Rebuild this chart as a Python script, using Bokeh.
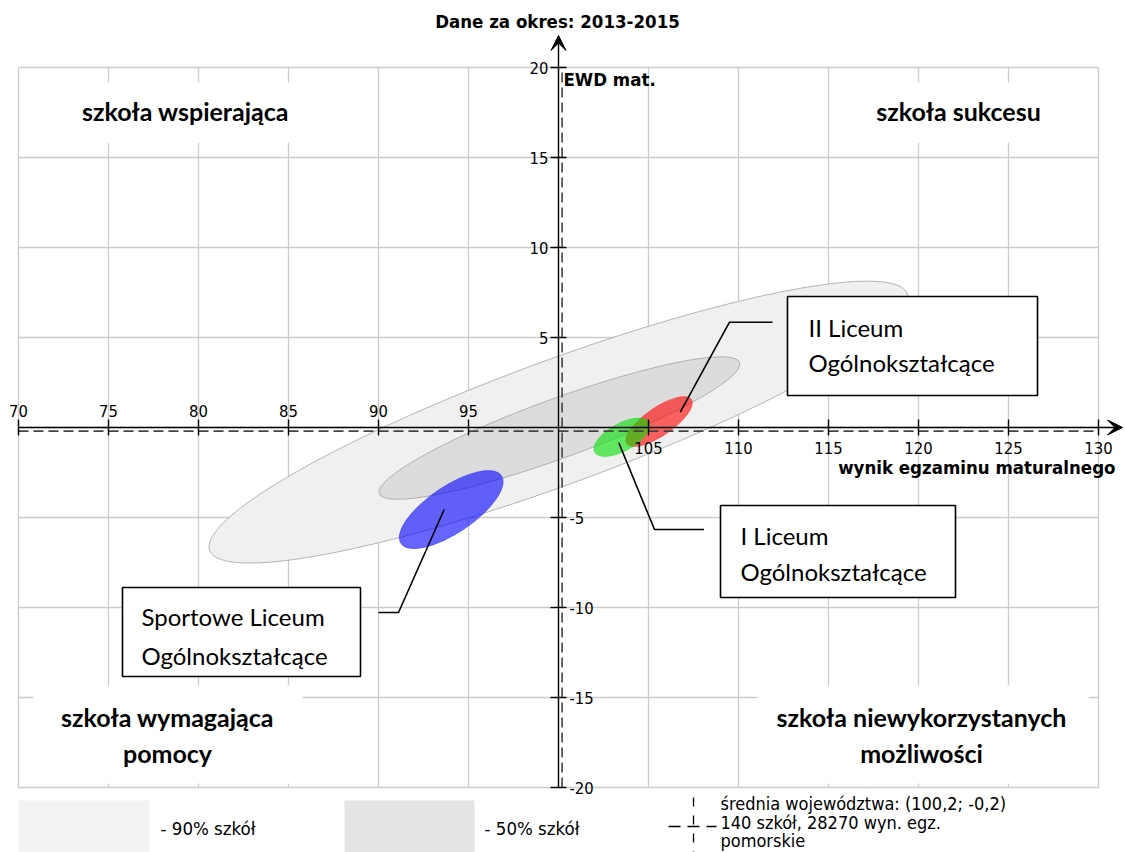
from bokeh.plotting import figure
from bokeh.models import Range1d, Arrow, VeeHead
from bokeh.core.properties import value
from bokeh.embed import file_html
from bokeh.resources import INLINE

# ---------------- data ----------------
x_ticks = [70, 75, 80, 85, 90, 95, 100, 105, 110, 115, 120, 125, 130]
y_ticks = [-20, -15, -10, -5, 0, 5, 10, 15, 20]
origin_x = 100
origin_y = 0
mean_x = 100.2
mean_y = -0.2

band_labels = ["- 90% szkół", "- 50% szkół"]
band_cx = [100.0, 100.05]
band_cy = [0.3, -0.03]
band_w = [41.3, 21.3]
band_h = [6.9, 3.3]
band_angle = [20.2, 20.0]
band_fill = ["#f0f0f0", "#dcdcdc"]

school_lines = [["Sportowe Liceum", "Ogólnokształcące"],
                ["II Liceum", "Ogólnokształcące"],
                ["I Liceum", "Ogólnokształcące"]]
school_cx = [94.04, 105.59, 103.52]
school_cy = [-4.56, 0.33, -0.54]
school_w = [6.74, 4.36, 3.45]
school_h = [2.6, 1.56, 1.53]
school_angle = [34.0, 34.4, 29.0]
school_color = ["#0000ff", "#ff0000", "#00e000"]

quadrant_labels = [["szkoła wspierająca"], ["szkoła sukcesu"],
                   ["szkoła wymagająca", "pomocy"],
                   ["szkoła niewykorzystanych", "możliwości"]]

title_text = "Dane za okres: 2013-2015"
x_label = "wynik egzaminu maturalnego"
y_label = "EWD mat."
legend_lines = ["średnia województwa: (100,2; -0,2)",
                "140 szkół, 28270 wyn. egz.",
                "pomorskie"]

# ---------------- layout ----------------
W, H = 1125, 852
PX = 18.0          # pixels per unit on both axes
OX, OY = 558, 427  # page pixel of the origin


def dx(px):
    return origin_x + (px - OX) / PX


def dy(py):
    return origin_y + (OY - py) / PX


AXF = value("DejaVu Sans Condensed")
LBF = value("Lato")
TICK_FS = "16.5px"
BIG_FS = "18.5px"

p = figure(width=W, height=H, x_range=Range1d(dx(0), dx(W)),
           y_range=Range1d(dy(H), dy(0)), output_backend="svg",
           toolbar_location=None, min_border=0, x_axis_type=None,
           y_axis_type=None)
p.grid.visible = False
p.outline_line_color = None
p.background_fill_color = "white"

xmin, xmax = x_ticks[0], x_ticks[-1]
ymin, ymax = y_ticks[0], y_ticks[-1]

# grid
p.segment(x0=x_ticks, x1=x_ticks, y0=[ymin] * len(x_ticks), y1=[ymax] * len(x_ticks),
          line_color="#cccccc", line_width=1.3)
p.segment(x0=[xmin] * len(y_ticks), x1=[xmax] * len(y_ticks), y0=y_ticks, y1=y_ticks,
          line_color="#cccccc", line_width=1.3)

# white boxes behind quadrant labels
qb = [(24, 82, 300, 142), (845, 82, 1080, 142), (33, 685, 302, 783), (757, 685, 1088, 783)]
p.quad(left=[dx(b[0]) for b in qb], right=[dx(b[2]) for b in qb],
       top=[dy(b[1]) for b in qb], bottom=[dy(b[3]) for b in qb],
       fill_color="white", line_color=None)

# bands
p.ellipse(x=band_cx, y=band_cy, width=band_w, height=band_h, angle=band_angle,
          angle_units="deg", fill_color=band_fill, line_color="#999999",
          line_alpha=0.7, line_width=1)

# schools
p.ellipse(x=school_cx, y=school_cy, width=school_w, height=school_h, angle=school_angle,
          angle_units="deg", fill_color=school_color, fill_alpha=0.6,
          line_color=school_color, line_alpha=0.35, line_width=1)

# mean dashed lines
p.segment(x0=[xmin, mean_x], x1=[xmax, mean_x], y0=[mean_y, ymin], y1=[mean_y, ymax],
          line_color="#444444", line_width=1.6, line_dash="10 5")

# axes with arrows
p.add_layout(Arrow(end=VeeHead(size=15, fill_color="black", line_color="black", line_width=1),
                   x_start=origin_x, y_start=ymin, x_end=origin_x, y_end=dy(35),
                   line_color="black", line_width=1.4))
p.add_layout(Arrow(end=VeeHead(size=15, fill_color="black", line_color="black", line_width=1),
                   x_start=xmin, y_start=origin_y, x_end=dx(1122), y_end=origin_y,
                   line_color="black", line_width=1.4))

tk = 8 / PX
xt = [t for t in x_ticks if t != origin_x]
yt = [t for t in y_ticks if t != origin_y]
p.segment(x0=xt, x1=xt, y0=[origin_y - tk] * len(xt), y1=[origin_y + tk] * len(xt),
          line_color="black", line_width=1.4)
p.segment(x0=[origin_x - tk] * len(yt), x1=[origin_x + tk] * len(yt), y0=yt, y1=yt,
          line_color="black", line_width=1.4)

# tick labels
xl = [t for t in xt if t < origin_x]
xr = [t for t in xt if t > origin_x]
p.text(x=xl, y=[dy(410)] * len(xl), text=[str(t) for t in xl], text_font=AXF,
       text_font_size=TICK_FS, text_align="center", text_baseline="middle", text_color="black")
p.text(x=xr, y=[dy(447)] * len(xr), text=[str(t) for t in xr], text_font=AXF,
       text_font_size=TICK_FS, text_align="center", text_baseline="middle", text_color="black")
yu = [t for t in yt if t > origin_y]
yd = [t for t in yt if t < origin_y]
p.text(x=[dx(548)] * len(yu), y=yu, text=[str(t) for t in yu], text_font=AXF,
       text_font_size=TICK_FS, text_align="right", text_baseline="middle", text_color="black")
p.text(x=[dx(569)] * len(yd), y=yd, text=[str(t) for t in yd], text_font=AXF,
       text_font_size=TICK_FS, text_align="left", text_baseline="middle", text_color="black")

# axis labels and title
p.text(x=[dx(1115)], y=[dy(467)], text=[x_label], text_font=AXF, text_font_style="bold",
       text_font_size=BIG_FS, text_align="right", text_baseline="middle", text_color="black")
p.text(x=[dx(563)], y=[dy(79)], text=[y_label], text_font=AXF, text_font_style="bold",
       text_font_size=BIG_FS, text_align="left", text_baseline="middle", text_color="black")
p.text(x=[dx(557)], y=[dy(21)], text=[title_text], text_font=AXF, text_font_style="bold",
       text_font_size=BIG_FS, text_align="center", text_baseline="middle", text_color="black")

# quadrant labels
qpos = [(185, [110]), (958, [110]), (167, [716, 752]), (921, [716, 752])]
for (cxp, ys), lines in zip(qpos, quadrant_labels):
    p.text(x=[dx(cxp)] * len(lines), y=[dy(v) for v in ys], text=lines, text_font=LBF,
           text_font_style="bold", text_font_size="25px", text_align="center",
           text_baseline="middle", text_color="black")

# callouts
boxes = [(122, 587, 360, 676), (787, 296, 1037, 395), (720, 505, 955, 597)]
leaders = [[(443.7, 509), (398, 612), (378, 612)],
           [(679.8, 411.7), (729, 321.7), (772, 321.7)],
           [(618.3, 442.3), (654, 529), (703.5, 529)]]
text_pos = [(141, [616, 655]), (808, [327, 362]), (740, [535, 571])]
p.quad(left=[dx(b[0]) for b in boxes], right=[dx(b[2]) for b in boxes],
       top=[dy(b[1]) for b in boxes], bottom=[dy(b[3]) for b in boxes],
       fill_color="white", line_color="black", line_width=1.6)
p.multi_line(xs=[[dx(a) for a, _ in L] for L in leaders], ys=[[dy(b) for _, b in L] for L in leaders],
             line_color="black", line_width=1.6)
for (lx, ys), lines in zip(text_pos, school_lines):
    p.text(x=[dx(lx)] * len(lines), y=[dy(v) for v in ys], text=lines, text_font=LBF,
           text_font_size="24px", text_align="left", text_baseline="middle", text_color="black")

# legend
p.quad(left=[dx(18), dx(344)], right=[dx(149), dx(474)], top=[dy(800)] * 2, bottom=[dy(870)] * 2,
       fill_color=["#f2f2f2", "#e4e4e4"], line_color=None)
p.text(x=[dx(160), dx(484)], y=[dy(828)] * 2, text=band_labels, text_font=AXF,
       text_font_size=BIG_FS, text_align="left", text_baseline="middle", text_color="black")
p.segment(x0=[dx(668)], x1=[dx(716)], y0=[dy(826)], y1=[dy(826)], line_color="black",
          line_width=1.3, line_dash="12 7")
p.segment(x0=[dx(693)], x1=[dx(693)], y0=[dy(797)], y1=[dy(852)], line_color="black",
          line_width=1.3, line_dash="9 9")
p.text(x=[dx(720)] * 3, y=[dy(803), dy(822), dy(840)], text=legend_lines, text_font=AXF,
       text_font_size="18px", text_align="left", text_baseline="middle", text_color="black")

open("out.html", "w").write(file_html(p, INLINE))
